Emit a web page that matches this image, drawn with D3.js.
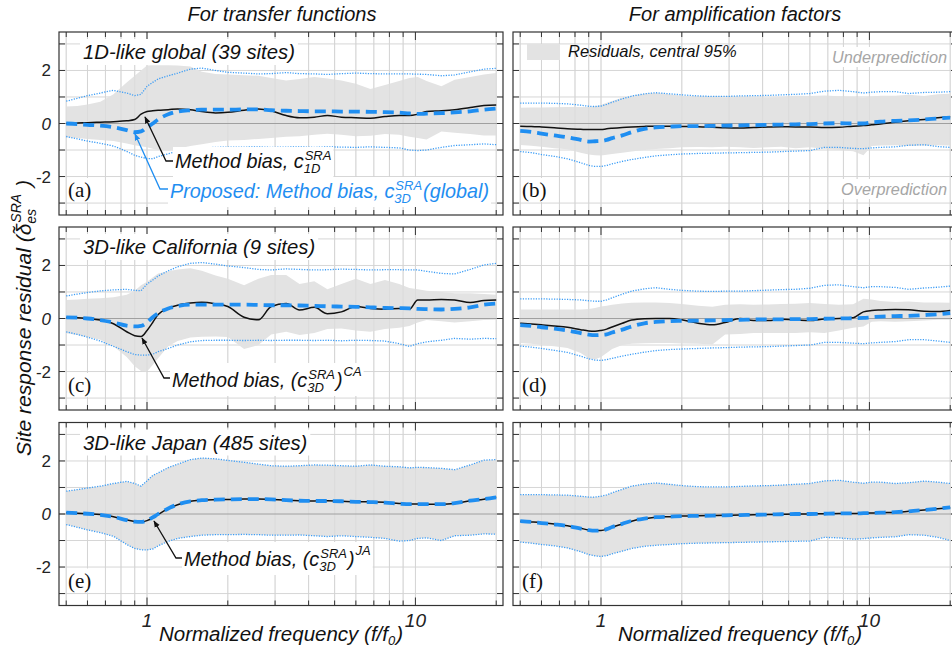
<!DOCTYPE html>
<html><head><meta charset="utf-8">
<script src="https://cdn.jsdelivr.net/npm/d3@7"></script>
<style>body{margin:0;background:#fff}svg{display:block}</style>
</head><body><svg id="c" width="952" height="650"></svg>
<script>
// ---------------- DATA ----------------
const freq = [0.5,0.55,0.6,0.67,0.75,0.84,0.9,0.95,1.0,1.05,1.1,1.2,1.3,1.45,1.6,1.8,2.0,2.3,2.6,2.9,3.3,3.7,4.2,4.7,5.3,6.0,6.8,7.7,8.7,9.5,10.2,11,12.5,14,16,18,20];
const yGrid = [-3,-2,-1,0,1,2,3];
const yTickLabels = [-2,0,2];
const xGrid = [0.5,0.6,0.7,0.8,0.9,1,2,3,4,5,6,7,8,9,10,20];
const xTickLabels = [1,10];
const columnTitles = ["For transfer functions","For amplification factors"];
const xAxisTitle = "Normalized frequency (f/f";
const panelTitles = ["1D-like global (39 sites)","3D-like California (9 sites)","3D-like Japan (485 sites)"];
const panelLetters = ["(a)","(b)","(c)","(d)","(e)","(f)"];
const legendLabel = "Residuals, central 95%";

// (a) transfer functions, 1D-like global
const aBias1D = [0.0,0.02,0.03,0.05,0.07,0.1,0.15,0.35,0.45,0.48,0.5,0.52,0.55,0.52,0.45,0.4,0.42,0.5,0.55,0.48,0.3,0.22,0.24,0.3,0.24,0.22,0.2,0.26,0.3,0.3,0.35,0.45,0.48,0.52,0.6,0.68,0.7];
const aBias3D = [0.0,-0.02,-0.05,-0.08,-0.14,-0.25,-0.33,-0.3,-0.15,0.0,0.15,0.35,0.45,0.5,0.52,0.52,0.52,0.53,0.53,0.5,0.48,0.47,0.46,0.46,0.45,0.45,0.44,0.43,0.41,0.38,0.36,0.37,0.39,0.42,0.46,0.52,0.56];
const aBandHi = [0.64,0.66,0.72,0.82,1.1,1.55,1.8,2.0,2.19,2.2,2.2,2.2,2.19,2.15,1.95,1.87,1.85,1.82,1.8,1.72,1.62,1.68,1.75,1.7,1.62,1.5,1.3,1.45,1.6,1.72,1.75,1.6,1.4,1.65,1.75,1.85,1.9];
const aBandLo = [-0.52,-0.55,-0.58,-0.62,-0.66,-0.75,-0.82,-0.86,-0.9,-0.95,-1.0,-1.02,-0.95,-0.85,-0.78,-0.7,-0.64,-0.62,-0.58,-0.55,-0.5,-0.48,-0.42,-0.39,-0.42,-0.48,-0.46,-0.4,-0.42,-0.5,-0.55,-0.6,-0.3,-0.35,-0.4,-0.45,-0.45];
const aDotHi = [0.84,0.95,1.05,1.15,1.25,1.15,1.05,1.1,1.4,1.55,1.68,1.8,1.9,2.05,2.09,2.0,1.93,1.9,1.87,1.88,1.92,1.88,1.87,1.85,1.88,1.9,1.88,1.87,1.87,1.87,1.86,1.85,1.8,1.83,1.95,2.05,2.08];
const aDotLo = [-0.49,-0.58,-0.66,-0.75,-0.85,-1.05,-1.2,-1.27,-1.32,-1.33,-1.25,-1.14,-1.05,-0.96,-0.92,-0.9,-0.89,-0.89,-0.88,-0.9,-0.89,-0.88,-0.9,-0.88,-0.89,-0.9,-0.88,-0.9,-0.92,-1.0,-1.02,-1.0,-0.9,-0.83,-0.8,-0.77,-0.8];

// (b) amplification factors, 1D-like global
const bBias1D = [-0.1,-0.11,-0.13,-0.16,-0.2,-0.22,-0.23,-0.23,-0.23,-0.2,-0.18,-0.15,-0.13,-0.11,-0.1,-0.1,-0.11,-0.12,-0.14,-0.16,-0.17,-0.15,-0.13,-0.12,-0.13,-0.13,-0.15,-0.14,-0.1,-0.08,-0.05,-0.02,0.05,0.1,0.15,0.22,0.25];
const bBias3D = [-0.28,-0.32,-0.38,-0.45,-0.52,-0.62,-0.68,-0.67,-0.66,-0.62,-0.55,-0.45,-0.33,-0.2,-0.15,-0.12,-0.1,-0.1,-0.09,-0.08,-0.07,-0.06,-0.05,-0.04,-0.03,-0.02,0.0,0.01,0.0,0.0,0.04,0.07,0.1,0.12,0.15,0.19,0.22];
const bBandHi = [0.59,0.6,0.6,0.61,0.62,0.62,0.62,0.65,0.7,0.78,0.85,0.97,1.05,1.12,1.16,1.1,1.05,1.03,1.0,0.98,1.0,0.99,0.98,1.0,1.05,1.04,1.06,1.03,1.0,0.98,1.02,1.05,1.05,1.08,1.04,1.1,1.12];
const bBandLo = [-0.81,-0.84,-0.88,-0.93,-0.97,-1.1,-1.17,-1.2,-1.21,-1.18,-1.15,-1.1,-1.06,-1.0,-0.96,-0.93,-0.9,-0.89,-0.9,-0.88,-0.9,-0.92,-0.9,-0.88,-0.93,-0.9,-0.95,-1.0,-1.05,-1.2,-0.85,-0.83,-0.82,-0.85,-0.83,-0.82,-0.83];
const bDotHi = [0.77,0.77,0.77,0.76,0.74,0.69,0.65,0.64,0.66,0.72,0.8,0.93,1.03,1.12,1.16,1.12,1.08,1.04,1.02,1.02,1.04,1.05,1.06,1.08,1.1,1.13,1.22,1.25,1.2,1.15,1.18,1.2,1.2,1.13,1.17,1.18,1.2];
const bDotLo = [-1.06,-1.1,-1.17,-1.24,-1.33,-1.48,-1.58,-1.62,-1.62,-1.58,-1.52,-1.43,-1.36,-1.28,-1.22,-1.18,-1.15,-1.13,-1.12,-1.11,-1.1,-1.09,-1.08,-1.06,-1.04,-1.02,-0.9,-0.9,-0.94,-0.95,-0.92,-0.9,-0.88,-0.82,-0.8,-0.87,-0.9];

// (c) transfer functions, 3D-like California
const cBiasCA = [0.04,0.03,0.0,-0.06,-0.2,-0.5,-0.65,-0.68,-0.45,-0.15,0.15,0.38,0.5,0.58,0.61,0.55,0.45,0.05,-0.05,0.45,0.57,0.32,0.42,0.18,0.25,0.45,0.38,0.35,0.38,0.35,0.7,0.7,0.72,0.7,0.6,0.68,0.7];
const cBias3D = [0.04,0.03,0.0,-0.06,-0.15,-0.27,-0.3,-0.28,-0.15,0.05,0.2,0.38,0.47,0.52,0.52,0.52,0.52,0.52,0.51,0.5,0.5,0.49,0.48,0.46,0.45,0.44,0.42,0.4,0.39,0.38,0.36,0.35,0.34,0.36,0.42,0.52,0.56];
const cBandHi = [0.7,0.72,0.74,0.76,0.8,0.9,1.05,1.25,1.39,1.55,1.7,1.78,1.85,1.89,1.8,1.62,1.5,1.25,1.5,1.64,1.64,1.3,1.4,1.1,1.3,1.5,1.3,1.45,1.3,1.15,1.1,1.05,1.0,0.95,0.95,0.92,0.9];
const cBandLo = [-0.56,-0.62,-0.7,-0.8,-1.05,-1.45,-1.8,-1.98,-2.0,-1.75,-1.5,-1.05,-0.85,-0.72,-0.69,-0.68,-0.7,-1.15,-1.0,-0.6,-0.5,-0.62,-0.55,-0.4,-0.38,-0.45,-0.5,-0.4,-0.35,-0.28,-0.15,-0.06,-0.1,-0.15,-0.1,-0.06,-0.05];
const cDotHi = [0.85,0.92,0.98,1.04,1.08,1.1,1.06,1.05,1.3,1.45,1.6,1.8,1.95,2.08,2.11,2.05,1.98,1.92,1.85,1.83,1.87,1.85,1.83,1.84,1.86,1.85,1.83,1.84,1.84,1.83,1.83,1.78,1.7,1.68,1.85,2.02,2.08];
const cDotLo = [-0.5,-0.6,-0.7,-0.85,-1.05,-1.25,-1.36,-1.38,-1.38,-1.35,-1.25,-1.13,-1.0,-0.88,-0.83,-0.82,-0.82,-0.83,-0.82,-0.83,-0.82,-0.82,-0.83,-0.82,-0.84,-0.82,-0.83,-0.85,-0.95,-1.05,-0.95,-0.88,-0.82,-0.75,-0.78,-0.75,-0.76];

// (d) amplification factors, 3D-like California
const dBiasCA = [-0.18,-0.21,-0.24,-0.28,-0.33,-0.42,-0.47,-0.48,-0.45,-0.4,-0.32,-0.18,-0.06,-0.01,0.0,0.0,-0.05,-0.18,-0.24,-0.15,0.0,-0.08,-0.08,-0.03,-0.05,-0.08,-0.02,0.0,0.03,0.25,0.3,0.32,0.34,0.33,0.27,0.26,0.3];
const dBias3D = [-0.25,-0.28,-0.33,-0.38,-0.45,-0.55,-0.61,-0.63,-0.62,-0.6,-0.53,-0.42,-0.3,-0.18,-0.13,-0.1,-0.09,-0.08,-0.07,-0.06,-0.05,-0.04,-0.03,-0.03,-0.02,-0.02,-0.01,0.0,0.01,0.02,0.05,0.07,0.09,0.1,0.13,0.16,0.2];
const dBandHi = [0.34,0.34,0.34,0.34,0.34,0.34,0.36,0.4,0.45,0.48,0.52,0.57,0.59,0.6,0.6,0.58,0.55,0.48,0.44,0.52,0.54,0.52,0.53,0.55,0.56,0.58,0.55,0.52,0.54,0.74,0.72,0.66,0.62,0.64,0.6,0.6,0.59];
const dBandLo = [-0.92,-0.95,-1.0,-1.05,-1.11,-1.3,-1.5,-1.55,-1.45,-1.3,-1.15,-1.0,-0.95,-0.93,-0.92,-0.92,-0.94,-0.95,-0.98,-0.6,-0.58,-0.55,-0.55,-0.55,-0.55,-0.52,-0.55,-0.45,-0.35,-0.3,-0.12,-0.1,-0.12,-0.1,-0.08,-0.05,-0.05];
const dDotHi = [0.74,0.74,0.74,0.73,0.72,0.7,0.67,0.65,0.65,0.7,0.78,0.92,1.03,1.12,1.16,1.1,1.06,1.03,1.02,1.03,1.03,1.05,1.07,1.09,1.1,1.14,1.25,1.27,1.2,1.16,1.2,1.2,1.17,1.1,1.15,1.18,1.22];
const dDotLo = [-1.04,-1.08,-1.13,-1.2,-1.28,-1.42,-1.52,-1.57,-1.58,-1.55,-1.5,-1.42,-1.35,-1.27,-1.21,-1.17,-1.15,-1.13,-1.11,-1.1,-1.08,-1.07,-1.06,-1.04,-1.02,-1.0,-0.9,-0.9,-0.93,-0.95,-0.92,-0.9,-0.87,-0.8,-0.8,-0.85,-0.9];

// (e) transfer functions, 3D-like Japan
const eBiasJA = [0.05,0.03,0.01,-0.02,-0.1,-0.22,-0.28,-0.3,-0.25,-0.15,-0.02,0.2,0.35,0.48,0.52,0.54,0.55,0.57,0.57,0.55,0.52,0.5,0.49,0.5,0.48,0.46,0.46,0.44,0.4,0.38,0.38,0.37,0.37,0.4,0.5,0.56,0.64];
const eBias3D = [0.05,0.03,0.01,-0.03,-0.11,-0.23,-0.29,-0.3,-0.24,-0.13,0.0,0.21,0.36,0.48,0.52,0.54,0.55,0.56,0.56,0.55,0.52,0.5,0.49,0.49,0.48,0.46,0.45,0.43,0.39,0.37,0.37,0.37,0.37,0.41,0.5,0.56,0.63];
const eBandHi = [0.86,0.92,0.98,1.05,1.15,1.23,1.15,1.05,1.25,1.45,1.55,1.75,1.88,2.05,2.11,2.08,2.02,1.95,1.88,1.82,1.8,1.82,1.85,1.84,1.82,1.8,1.85,1.8,1.78,1.74,1.76,1.75,1.72,1.67,1.85,2.03,2.05];
const eBandLo = [-0.4,-0.5,-0.6,-0.7,-0.84,-1.15,-1.3,-1.35,-1.35,-1.32,-1.2,-1.03,-0.92,-0.85,-0.8,-0.78,-0.78,-0.77,-0.78,-0.8,-0.8,-0.79,-0.82,-0.85,-0.82,-0.85,-0.88,-0.92,-1.02,-1.0,-0.92,-0.9,-1.0,-0.82,-0.8,-0.75,-0.76];

// (f) amplification factors, 3D-like Japan
const fBiasJA = [-0.27,-0.3,-0.33,-0.38,-0.44,-0.54,-0.6,-0.62,-0.62,-0.58,-0.5,-0.38,-0.27,-0.18,-0.12,-0.1,-0.08,-0.07,-0.06,-0.05,-0.04,-0.03,-0.02,-0.01,0.0,0.0,0.01,0.02,0.02,0.03,0.04,0.05,0.06,0.1,0.15,0.2,0.24];
const fBias3D = [-0.27,-0.3,-0.34,-0.39,-0.45,-0.55,-0.61,-0.63,-0.62,-0.57,-0.49,-0.37,-0.26,-0.17,-0.12,-0.1,-0.08,-0.07,-0.06,-0.05,-0.04,-0.03,-0.02,-0.01,0.0,0.0,0.01,0.02,0.02,0.03,0.04,0.05,0.07,0.1,0.15,0.2,0.25];
const fBandHi = [0.73,0.73,0.73,0.72,0.71,0.67,0.64,0.64,0.67,0.72,0.8,0.93,1.05,1.13,1.17,1.12,1.07,1.03,1.02,1.02,1.04,1.06,1.07,1.09,1.12,1.15,1.25,1.27,1.2,1.16,1.2,1.2,1.15,1.18,1.24,1.2,1.15];
const fBandLo = [-1.06,-1.1,-1.15,-1.2,-1.28,-1.42,-1.53,-1.58,-1.6,-1.57,-1.5,-1.4,-1.3,-1.22,-1.18,-1.15,-1.12,-1.1,-1.09,-1.08,-1.07,-1.06,-1.05,-1.04,-1.03,-1.02,-0.88,-0.9,-0.95,-0.93,-0.9,-0.88,-0.86,-0.78,-0.8,-0.88,-1.0];

// ---------------- LAYOUT ----------------
const svg = d3.select("#c");
const FONT = "'Liberation Sans', Arial, sans-serif";
const SERIF = "'Liberation Serif', 'Times New Roman', serif";
const BLUE = "#1f8ef1";
const DOT = "#3a9cf6";
const colX = [[59,503],[513,957]];
const colCenter = [281,740];
const rowTop = [32,227,422.5];
const H = 183;

const panels = [
  {col:0,row:0,band:[aBandLo,aBandHi],dot:[aDotLo,aDotHi],black:aBias1D,blue:aBias3D},
  {col:1,row:0,band:[bBandLo,bBandHi],dot:[bDotLo,bDotHi],black:bBias1D,blue:bBias3D},
  {col:0,row:1,band:[cBandLo,cBandHi],dot:[cDotLo,cDotHi],black:cBiasCA,blue:cBias3D},
  {col:1,row:1,band:[dBandLo,dBandHi],dot:[dDotLo,dDotHi],black:dBiasCA,blue:dBias3D},
  {col:0,row:2,band:[eBandLo,eBandHi],dot:[eBandLo,eBandHi],black:eBiasJA,blue:eBias3D},
  {col:1,row:2,band:[fBandLo,fBandHi],dot:[fBandLo,fBandHi],black:fBiasJA,blue:fBias3D}
];

const defs = svg.append("defs");
function marker(id,color){
  defs.append("marker").attr("id",id).attr("viewBox","0 0 10 10").attr("refX",9).attr("refY",5)
    .attr("markerWidth",7).attr("markerHeight",7).attr("markerUnits","userSpaceOnUse").attr("orient","auto")
    .append("path").attr("d","M0,1 L10,5 L0,9 z").attr("fill",color);
}
marker("arrK","#111"); marker("arrB",BLUE);

// rich text with stacked super/subscripts
function richText(g,x,y,parts,opts){
  const fs = opts.size||18, col = opts.color||"#111", sfs = opts.sfs||12;
  let cx = x;
  parts.forEach(p=>{
    if(typeof p === "string"){
      const t = g.append("text").attr("x",cx).attr("y",y).attr("font-family",FONT).attr("font-style","italic")
        .attr("font-size",fs).attr("fill",col).attr("xml:space","preserve").text(p);
      cx += t.node().getComputedTextLength();
    } else {
      let w = 0;
      if(p.sup){
        const t = g.append("text").attr("x",cx+1).attr("y",y-(p.supOff||8)).attr("font-family",FONT).attr("font-style","italic")
          .attr("font-size",sfs).attr("fill",col).text(p.sup);
        w = Math.max(w,t.node().getComputedTextLength()+1);
      }
      if(p.sub){
        const t = g.append("text").attr("x",cx).attr("y",y+(p.subOff||5)).attr("font-family",FONT).attr("font-style","italic")
          .attr("font-size",sfs).attr("fill",col).text(p.sub);
        w = Math.max(w,t.node().getComputedTextLength());
      }
      cx += w + 1;
    }
  });
  return cx - x;
}
function whiteBox(g,pad){
  const b = g.node().getBBox();
  g.insert("rect",":first-child").attr("x",b.x-pad).attr("y",b.y-pad+1).attr("width",b.width+2*pad).attr("height",b.height+2*pad-2).attr("fill","#fff");
}

panels.forEach((p,i)=>{
  const [x0,x1] = colX[p.col];
  const top = rowTop[p.row], bot = top+H;
  const x = d3.scaleLog().domain([0.47,21.2]).range([x0,x1]);
  const y = d3.scaleLinear().domain([-3.45,3.45]).range([bot,top]);
  const g = svg.append("g");
  // grid
  g.selectAll(".gy").data(yGrid).join("line").attr("x1",x0).attr("x2",x1).attr("y1",d=>y(d)).attr("y2",d=>y(d))
    .attr("stroke","#d6d6d6").attr("stroke-width",1);
  g.selectAll(".gx").data(xGrid).join("line").attr("x1",d=>x(d)).attr("x2",d=>x(d)).attr("y1",top).attr("y2",bot)
    .attr("stroke","#d6d6d6").attr("stroke-width",1);
  // band
  const area = d3.area().x((d,j)=>x(freq[j])).y0((d,j)=>y(p.band[0][j])).y1((d,j)=>y(p.band[1][j]));
  g.append("path").attr("d",area(freq)).attr("fill","#e3e3e3");
  // gridlines faintly over band
  g.selectAll(".gx2").data(xGrid).join("line").attr("x1",d=>x(d)).attr("x2",d=>x(d)).attr("y1",top).attr("y2",bot)
    .attr("stroke","#d2d2d2").attr("stroke-width",0.8).attr("opacity",0.5);
  g.append("line").attr("x1",x0).attr("x2",x1).attr("y1",y(0)).attr("y2",y(0)).attr("stroke","#a0a0a0").attr("stroke-width",1);
  const line = arr => d3.line().x((d,j)=>x(freq[j])).y((d,j)=>y(arr[j]))(freq);
  const sm = arr => d3.line().curve(d3.curveMonotoneX).x((d,j)=>x(freq[j])).y((d,j)=>y(arr[j]))(freq);
  [0,1].forEach(k=>g.append("path").attr("d",line(p.dot[k])).attr("fill","none").attr("stroke",DOT)
    .attr("stroke-width",1.3).attr("stroke-dasharray","1.2,1.4"));
  g.append("path").attr("d",sm(p.black)).attr("fill","none").attr("stroke","#111").attr("stroke-width",1.5);
  g.append("path").attr("d",sm(p.blue)).attr("fill","none").attr("stroke",BLUE).attr("stroke-width",3.8).attr("stroke-dasharray","11,6");
  // border
  g.append("rect").attr("x",x0).attr("y",top).attr("width",x1-x0).attr("height",H).attr("fill","none").attr("stroke","#333").attr("stroke-width",1.2);
  // ticks
  yGrid.forEach(v=>{
    g.append("line").attr("x1",x0).attr("x2",x0+6).attr("y1",y(v)).attr("y2",y(v)).attr("stroke","#333");
    g.append("line").attr("x1",x1-6).attr("x2",x1).attr("y1",y(v)).attr("y2",y(v)).attr("stroke","#333");
  });
  xGrid.forEach(v=>{
    const L = (v===1||v===10)?8:5;
    g.append("line").attr("x1",x(v)).attr("x2",x(v)).attr("y1",bot).attr("y2",bot-L).attr("stroke","#333");
    g.append("line").attr("x1",x(v)).attr("x2",x(v)).attr("y1",top).attr("y2",top+L).attr("stroke","#333");
  });
  if(p.col===0){
    yTickLabels.forEach(v=>g.append("text").attr("x",51).attr("y",y(v)+6).attr("text-anchor","end")
      .attr("font-family",FONT).attr("font-style",v===0?"italic":"normal").attr("font-size",17).attr("fill","#222").text(v));
  }
  if(p.row===2){
    xTickLabels.forEach(v=>g.append("text").attr("x",x(v)).attr("y",627).attr("text-anchor","middle")
      .attr("font-family",FONT).attr("font-style","italic").attr("font-size",19).attr("fill","#222").text(v));
    const tg = g.append("g");
    const w = richText(tg,0,641,[xAxisTitle,{sub:"0",subOff:4},")"],{size:20.5,sfs:13});
    tg.attr("transform",`translate(${colCenter[p.col] - w/2},0)`);
  }
  // panel letter
  const lg = g.append("g");
  lg.append("text").attr("x",x0+9).attr("y",bot-18).attr("font-family",SERIF).attr("font-size",21).attr("fill","#111").text(panelLetters[i]);
  whiteBox(lg,1);
  // panel title (left col)
  if(p.col===0){
    const tg = g.append("g");
    tg.append("text").attr("x",83).attr("y",top+27).attr("font-family",FONT).attr("font-style","italic").attr("font-size",20.3).attr("fill","#111").text(panelTitles[p.row]);
    whiteBox(tg,3);
  }
});

// column titles
columnTitles.forEach((t,i)=>svg.append("text").attr("x",i?735:282).attr("y",21).attr("text-anchor","middle")
  .attr("font-family",FONT).attr("font-style","italic").attr("font-size",20).attr("fill","#111").text(t));

// y label
{
  const g = svg.append("g");
  const w = richText(g,0,0,["Site response residual (\u03B4\u0303",{sup:"SRA",sub:"es",supOff:10,subOff:5}," )"],{size:21,sfs:14});
  g.attr("transform",`translate(31,${318 + w/2}) rotate(-90)`);
}

// legend in (b)
{
  const g = svg.append("g");
  g.append("rect").attr("x",527).attr("y",44).attr("width",33).attr("height",16).attr("fill","#e3e3e3");
  g.append("text").attr("x",568).attr("y",57).attr("font-family",FONT).attr("font-style","italic").attr("font-size",16.5).attr("fill","#111").text(legendLabel);
  [["Underprediction",63],["Overprediction",195]].forEach(([t,yy])=>{
    const tg = svg.append("g");
    tg.append("text").attr("x",947).attr("y",yy).attr("text-anchor","end").attr("font-family",FONT).attr("font-style","italic")
      .attr("font-size",16.3).attr("fill","#a6a6a6").text(t);
    whiteBox(tg,2);
  });
}

// annotations
function annot(x,y,parts,color,path,mk){
  svg.append("path").attr("d",d3.line()(path)).attr("fill","none").attr("stroke",color).attr("stroke-width",1.3).attr("marker-end",`url(#${mk})`);
  const g = svg.append("g");
  richText(g,x,y,parts,{size:19.8,sfs:13,color});
  whiteBox(g,2);
}
annot(175,168,["Method bias, c",{sup:"SRA",sub:"1D"}],"#111",[[174,161],[166,161],[145,117]],"arrK");
annot(170,198,["Proposed: Method bias, c",{sup:"SRA",sub:"3D"},"(global)"],BLUE,[[168,189],[160,189],[135,134]],"arrB");
annot(172,387,["Method bias, (c",{sup:"SRA",sub:"3D"},")",{sup:"CA",supOff:11}],"#111",[[170,378],[164,378],[142,338]],"arrK");
annot(184,566,["Method bias, (c",{sup:"SRA",sub:"3D"},")",{sup:"JA",supOff:11}],"#111",[[182,558],[176,558],[154,521]],"arrK");
</script></body></html>
